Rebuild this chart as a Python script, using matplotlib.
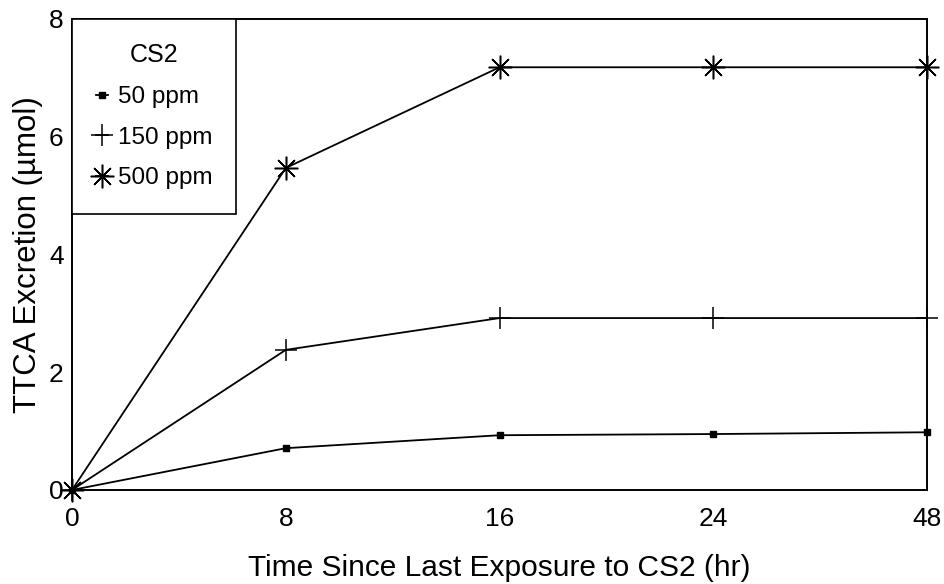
import numpy as np
import matplotlib
matplotlib.use('Agg')
import matplotlib.pyplot as plt

plt.rcParams['font.family'] = ['Liberation Sans', 'DejaVu Sans']

# время после экспозиции (ч) - категории по оси x
hours = ['0', '8', '16', '24', '48']
ppm50 = [0.0, 0.71, 0.93, 0.95, 0.98]
ppm150 = [0.0, 2.38, 2.92, 2.92, 2.92]
ppm500 = [0.0, 5.47, 7.18, 7.18, 7.18]
labels = ['50 ppm', '150 ppm', '500 ppm']


def main():
    fig = plt.figure(figsize=(9.45, 5.84), dpi=100)
    ax = fig.add_axes([0.0762, 0.161, 0.905, 0.8065])

    x = np.arange(len(hours))
    kw = {'color': 'black', 'lw': 1.3, 'clip_on': False}
    ax.plot(x, ppm50, marker='s', ms=4, label=labels[0], **kw)
    ax.plot(x, ppm150, marker='+', ms=16, mew=1.1, label=labels[1], **kw)
    ax.plot(x, ppm500, marker=(8, 2, 0), ms=17, mew=1.1, label=labels[2], **kw)

    ax.set_xlim(0, len(hours) - 1)
    ax.set_ylim(0, 8)
    ax.set_xticks(x, hours)
    ax.set_yticks([0, 2, 4, 6, 8])
    ax.tick_params(length=0, labelsize=19)
    ax.tick_params(axis='x', pad=12.5)
    ax.tick_params(axis='y', pad=6)
    for s in ax.spines.values():
        s.set_linewidth(1.4)

    ax.set_xlabel('Time Since Last Exposure to CS2 (hr)', fontsize=21.5, labelpad=16)
    ax.set_ylabel('TTCA Excretion (µmol)', fontsize=22.5, labelpad=4)

    # рамка легенды растянута до ширины как в оригинале
    leg = ax.legend(title='CS2', loc='upper left', bbox_to_anchor=(0, 1, 0.192, 0),
                    mode='expand', fontsize=17.5, title_fontsize=18,
                    handlelength=0.5, handletextpad=0.4, labelspacing=0.77,
                    borderpad=1.0, borderaxespad=0, fancybox=False,
                    framealpha=1, edgecolor='black')
    leg.get_frame().set_linewidth(1.2)

    fig.savefig('out.png', dpi=100)


if __name__ == "__main__":
    main()
